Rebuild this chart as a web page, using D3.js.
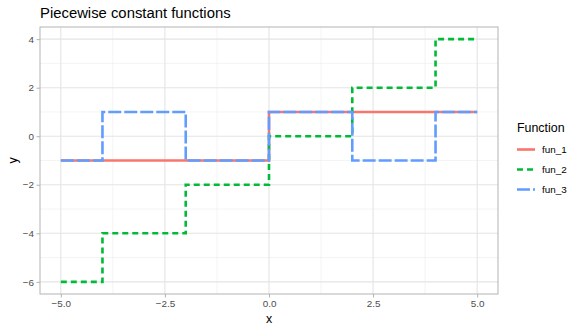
<!DOCTYPE html>
<html><head><meta charset="utf-8">
<script src="https://cdn.jsdelivr.net/npm/d3@7"></script>
<style>body{margin:0;background:#fff}svg{display:block;font-family:"Liberation Sans",Arial,Helvetica,sans-serif}</style>
</head><body><svg id="c" width="581" height="332"></svg>
<script>
const xBreaks = [-5, -4, -2, 0, 2, 4, 5];
const fun_1 = [-1, -1, -1, 1, 1, 1, 1];
const fun_2 = [-6, -4, -2, 0, 2, 4, 4];
const fun_3 = [-1, 1, -1, 1, -1, 1, 1];
const seriesNames = ["fun_1", "fun_2", "fun_3"];
const xTicks = [-5, -2.5, 0, 2.5, 5];
const yTicks = [-6, -4, -2, 0, 2, 4];
const xMinor = [-3.75, -1.25, 1.25, 3.75];
const yMinor = [-5, -3, -1, 1, 3];

const colors = ["#F8766D", "#00BA38", "#619CFF"];
const dashes = [null, "6,4", "13,3"];
const svg = d3.select("#c");
const L = 40, R = 498, T = 27, B = 294;
const x = d3.scaleLinear().domain([-5.5, 5.5]).range([L, R]);
const y = d3.scaleLinear().domain([-6.5, 4.5]).range([B, T]);

const g = svg.append("g");
g.selectAll(".minx").data(xMinor).join("line").attr("x1", d => x(d)).attr("x2", d => x(d)).attr("y1", T).attr("y2", B).attr("stroke", "#ececec").attr("stroke-width", 0.6);
g.selectAll(".miny").data(yMinor).join("line").attr("y1", d => y(d)).attr("y2", d => y(d)).attr("x1", L).attr("x2", R).attr("stroke", "#ececec").attr("stroke-width", 0.6);
g.selectAll(".majx").data(xTicks).join("line").attr("x1", d => x(d)).attr("x2", d => x(d)).attr("y1", T).attr("y2", B).attr("stroke", "#e4e4e4").attr("stroke-width", 1.1);
g.selectAll(".majy").data(yTicks).join("line").attr("y1", d => y(d)).attr("y2", d => y(d)).attr("x1", L).attr("x2", R).attr("stroke", "#e4e4e4").attr("stroke-width", 1.1);

const series = [fun_1, fun_2, fun_3];
const line = d3.line().x((d, i) => x(xBreaks[i])).y(d => y(d)).curve(d3.curveStepAfter);
series.forEach((s, k) => {
  svg.append("path").attr("d", line(s)).attr("fill", "none").attr("stroke", colors[k])
    .attr("stroke-width", 2.6).attr("stroke-dasharray", dashes[k]);
});

svg.append("rect").attr("x", L).attr("y", T).attr("width", R - L).attr("height", B - T)
  .attr("fill", "none").attr("stroke", "#b3b3b3").attr("stroke-width", 1);

const fmtX = d => d3.format(".1f")(d).replace("-", "\u2212");
const xAxis = d3.axisBottom(x).tickValues(xTicks).tickSize(3.5).tickPadding(2.5).tickFormat(fmtX);
const yAxis = d3.axisLeft(y).tickValues(yTicks).tickSize(3.5).tickPadding(2.5).tickFormat(d => String(d).replace("-", "\u2212"));
const gx = svg.append("g").attr("transform", `translate(0,${B})`).call(xAxis);
const gy = svg.append("g").attr("transform", `translate(${L},0)`).call(yAxis);
[gx, gy].forEach(a => {
  a.select(".domain").remove();
  a.selectAll(".tick line").attr("stroke", "#b3b3b3");
  a.selectAll(".tick text").attr("fill", "#4d4d4d").style("font-size", "9.9px").style("font-family", "inherit");
});

svg.append("text").attr("x", L).attr("y", 18).text("Piecewise constant functions").style("font-size", "14.85px").attr("fill", "#000");
svg.append("text").attr("x", (L + R) / 2).attr("y", 323).attr("text-anchor", "middle").text("x").style("font-size", "12.4px");
svg.append("text").attr("transform", `translate(17,${(T + B) / 2}) rotate(-90)`).attr("text-anchor", "middle").text("y").style("font-size", "12.4px");

svg.append("text").attr("x", 517).attr("y", 132).text("Function").style("font-size", "12.4px");
seriesNames.forEach((n, k) => {
  const yy = 149.5 + k * 20;
  svg.append("line").attr("x1", 517).attr("x2", 535).attr("y1", yy).attr("y2", yy).attr("stroke", colors[k])
    .attr("stroke-width", 2.6).attr("stroke-dasharray", dashes[k]);
  svg.append("text").attr("x", 542).attr("y", yy + 3.5).text(n).style("font-size", "9.9px").attr("fill", "#000");
});
</script></body></html>
